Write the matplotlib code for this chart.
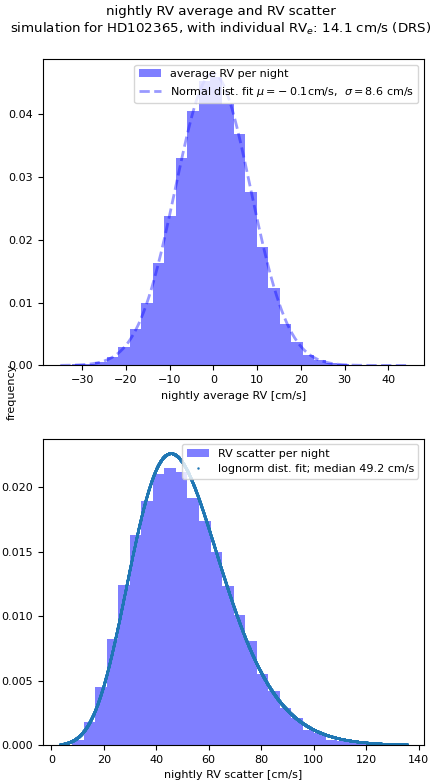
import matplotlib
matplotlib.use("Agg")
import matplotlib.pyplot as plt
import numpy as np

plt.rcParams["font.size"] = 8

# nightly average RV histogram (density), 30 bins
avg_lo, avg_hi = -35.0, 44.2
avg_density = [0.0001, 0.0002, 0.0003, 0.0005, 0.0014, 0.0029, 0.0058, 0.0100,
               0.0163, 0.0238, 0.0330, 0.0404, 0.0452, 0.0458, 0.0415, 0.0368,
               0.0275, 0.0188, 0.0123, 0.0066, 0.0037, 0.0017, 0.0008, 0.0004,
               0.0003, 0.0001, 0.0001, 0.00005, 0.00003, 0.00002]
mu, sigma = -0.1, 8.6

# nightly RV scatter histogram (density), 29 bins
sc_lo, sc_hi = 7.9, 135.5
sc_density = [0.0004, 0.0018, 0.0045, 0.0082, 0.0124, 0.0163, 0.0189, 0.0210,
              0.0215, 0.0212, 0.0192, 0.0174, 0.0150, 0.0123, 0.0101, 0.0081,
              0.0055, 0.0042, 0.0029, 0.0021, 0.0012, 0.0009, 0.0004, 0.0003,
              0.0002, 0.0001, 0.0001, 0.00005, 0.00003]
# lognorm fit (shape, loc, scale) and range of the fitted curve
ln_s, ln_loc, ln_scale = 0.21, -36.6, 85.8
fit_lo, fit_hi = 3.4, 135.5
median = 49.2


def normal_pdf(x, m, s):
    return np.exp(-0.5 * ((x - m) / s) ** 2) / (s * np.sqrt(2 * np.pi))


def lognorm_pdf(x, s, loc, scale):
    y = (x - loc) / scale
    return np.exp(-0.5 * (np.log(y) / s) ** 2) / (s * y * np.sqrt(2 * np.pi)) / scale


fig, (ax1, ax2) = plt.subplots(2, 1, figsize=(4.41, 7.83), dpi=100)
fig.subplots_adjust(left=0.0975, right=0.9615, bottom=0.0485, top=0.9246,
                    hspace=0.239)

edges1 = np.linspace(avg_lo, avg_hi, len(avg_density) + 1)
ax1.hist(edges1[:-1], bins=edges1, weights=avg_density, color="blue",
         alpha=0.5, label="average RV per night")
x1 = np.linspace(avg_lo, avg_hi, 400)
ax1.plot(x1, normal_pdf(x1, mu, sigma), "--", color="blue", alpha=0.4, lw=2,
         label=r"Normal dist. fit $\mu=-\;%.1f$cm/s,  $\sigma=%.1f$ cm/s"
         % (abs(mu), sigma))
ax1.legend(loc="upper right")
ax1.set_xlabel("nightly average RV [cm/s]")

edges2 = np.linspace(sc_lo, sc_hi, len(sc_density) + 1)
ax2.hist(edges2[:-1], bins=edges2, weights=sc_density, color="blue",
         alpha=0.5, label="RV scatter per night")
x2 = np.linspace(fit_lo, fit_hi, 6000)
ax2.plot(x2, lognorm_pdf(x2, ln_s, ln_loc, ln_scale), ".", ms=1.5,
         color="tab:blue",
         label="lognorm dist. fit; median %.1f cm/s" % median)
ax2.legend(loc="upper right")
ax2.set_xlabel("nightly RV scatter [cm/s]")

fig.text(0.026, 0.5, "frequency", rotation=90, ha="center", va="center")
fig.suptitle("nightly RV average and RV scatter\n"
             "simulation for HD102365, with individual RV$_e$: 14.1 cm/s (DRS)",
             fontsize=9.6, y=0.993)

fig.savefig("out.png", dpi=100)
